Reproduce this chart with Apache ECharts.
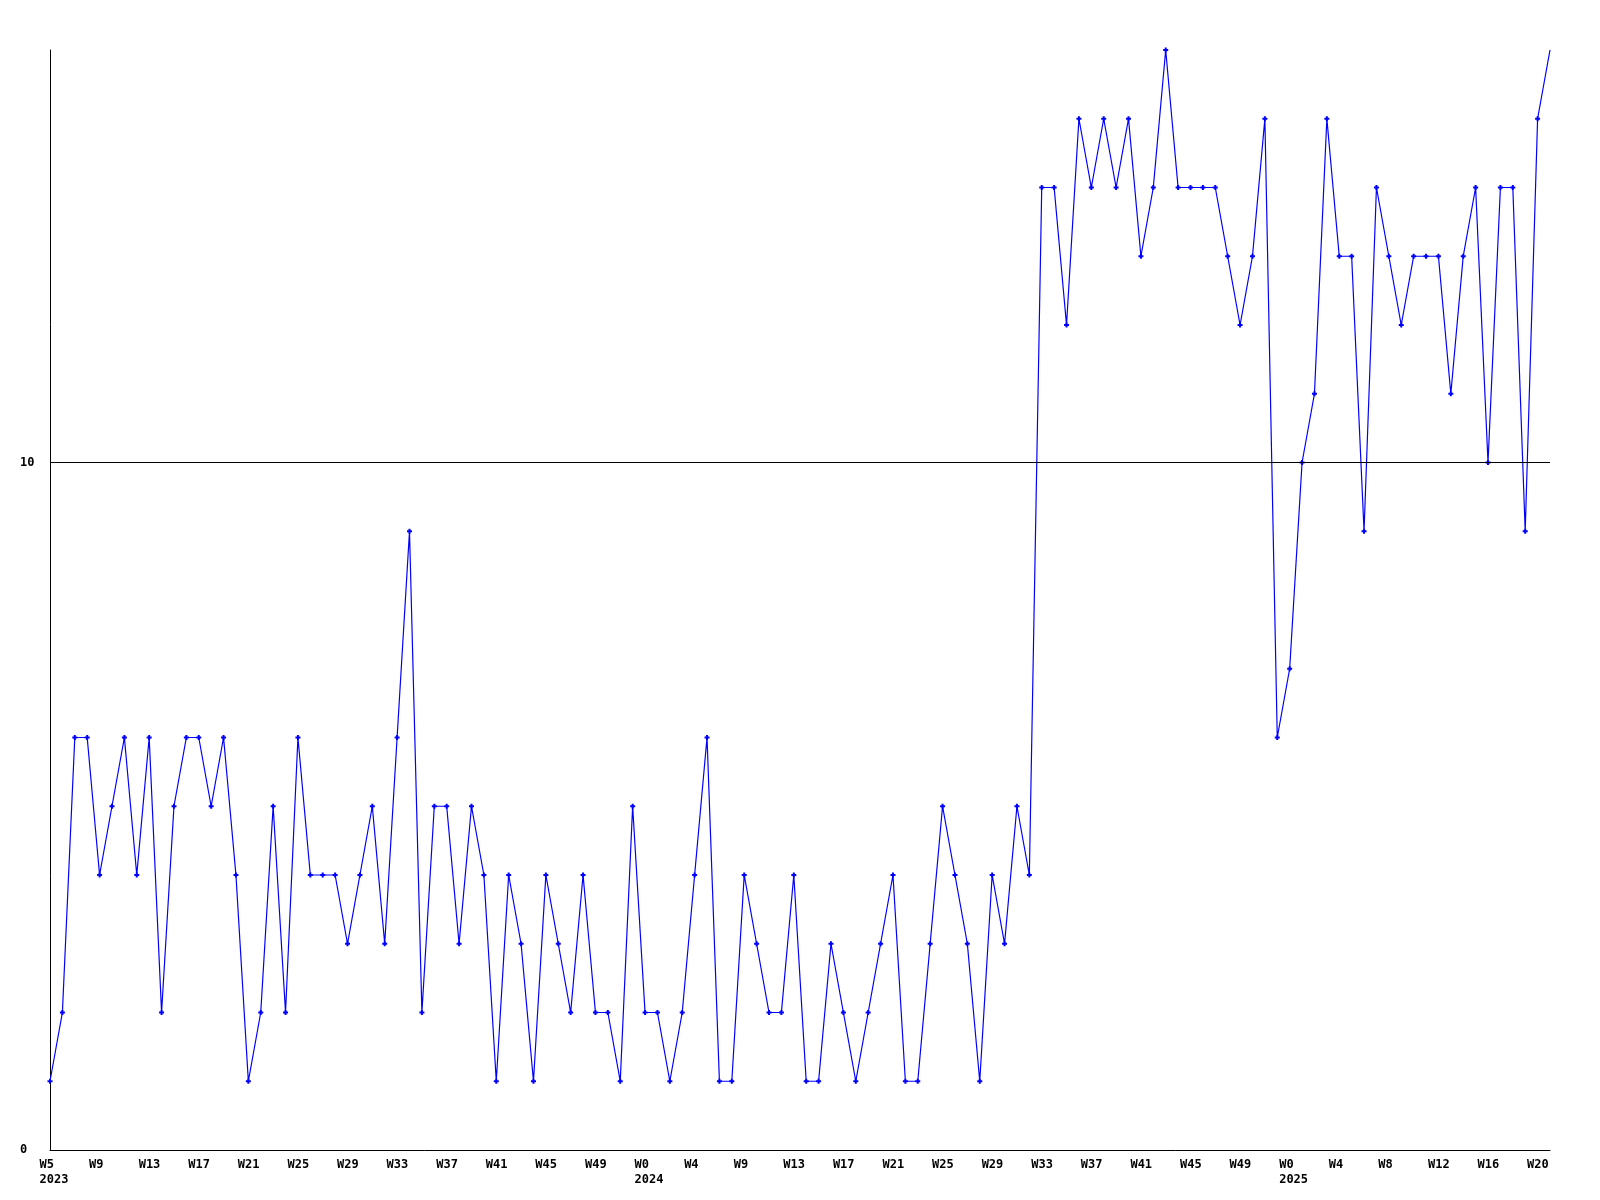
<!DOCTYPE html>
<html>
<head>
<meta charset="utf-8">
<script src="https://cdn.jsdelivr.net/npm/echarts@6/dist/echarts.min.js"></script>
<style>
  html, body { margin: 0; padding: 0; background: #fff; }
  #chart { width: 1600px; height: 1200px; }
</style>
</head>
<body>
<div id="chart"></div>
<script>
// Weekly values, 2023 W5 .. 2025 W21
const values = [
  1, 2, 6, 6, 4, 5, 6, 4, 6, 2,
  5, 6, 6, 5, 6, 4, 1, 2, 5, 2,
  6, 4, 4, 4, 3, 4, 5, 3, 6, 9,
  2, 5, 5, 3, 5, 4, 1, 4, 3, 1,
  4, 3, 2, 4, 2, 2, 1, 5, 2, 2,
  1, 2, 4, 6, 1, 1, 4, 3, 2, 2,
  4, 1, 1, 3, 2, 1, 2, 3, 4, 1,
  1, 3, 5, 4, 3, 1, 4, 3, 5, 4,
  14, 14, 12, 15, 14, 15, 14, 15, 13, 14,
  16, 14, 14, 14, 14, 13, 12, 13, 15, 6,
  7, 10, 11, 15, 13, 13, 9, 14, 13, 12,
  13, 13, 13, 11, 13, 14, 10, 14, 14, 9,
  15, 16
];
const categories = values.map((_, i) => String(i));

// One tick label every 4 points
const tickLabels = [
  'W5', 'W9', 'W13', 'W17', 'W21', 'W25', 'W29', 'W33', 'W37', 'W41', 'W45', 'W49',
  'W0', 'W4', 'W9', 'W13', 'W17', 'W21', 'W25', 'W29', 'W33', 'W37', 'W41', 'W45', 'W49',
  'W0', 'W4', 'W8', 'W12', 'W16', 'W20'
];
const yearLabels = { 0: '2023', 12: '2024', 25: '2025' };
const yTickLabels = [0, 10];
const refLine = 10;

const FONT = '"DejaVu Sans Mono", "Liberation Mono", monospace';

const seriesData = values.map((v, i) =>
  i === values.length - 1 ? { value: v, symbol: 'none' } : v
);

const chart = echarts.init(document.getElementById('chart'), null, { renderer: 'canvas' });
chart.setOption({
  animation: false,
  backgroundColor: '#ffffff',
  grid: { left: 50, right: 50, top: 50, bottom: 50, containLabel: false },
  xAxis: {
    type: 'category',
    data: categories,
    boundaryGap: false,
    axisLine: { show: true, lineStyle: { color: '#000', width: 1 } },
    axisTick: { show: false },
    splitLine: { show: false },
    axisLabel: {
      interval: 3,
      margin: 7,
      align: 'center',
      formatter: (val, idx) => {
        const k = Math.round(Number(val) / 4);
        const lab = tickLabels[k] || '';
        return yearLabels[k] ? '{a|' + lab + '}\n{a|' + yearLabels[k] + '}' : '{a|' + lab + '}';
      },
      rich: {
        a: {
          width: 21,
          align: 'left',
          fontFamily: FONT,
          fontSize: 12,
          fontWeight: 'bold',
          color: '#000',
          lineHeight: 15
        }
      }
    }
  },
  yAxis: {
    type: 'value',
    min: 0,
    max: 16,
    interval: 10,
    axisLine: { show: true, lineStyle: { color: '#000', width: 1 } },
    axisTick: { show: false },
    splitLine: { show: false },
    axisLabel: {
      margin: 30,
      align: 'left',
      fontFamily: FONT,
      fontSize: 12,
      fontWeight: 'bold',
      color: '#000',
      formatter: v => (yTickLabels.indexOf(v) >= 0 ? String(v) : '')
    }
  },
  series: [{
    type: 'line',
    data: seriesData,
    symbol: 'path://M1.5,0H3.5V1.5H5V3.5H3.5V5H1.5V3.5H0V1.5H1.5Z',
    symbolSize: 5,
    showAllSymbol: true,
    itemStyle: { color: '#0000ff' },
    lineStyle: { color: '#0000ff', width: 1.2 },
    markLine: {
      silent: true,
      symbol: ['none', 'none'],
      label: { show: false },
      lineStyle: { color: '#000', width: 1, type: 'solid' },
      data: [{ yAxis: refLine }]
    }
  }]
});
</script>
</body>
</html>
